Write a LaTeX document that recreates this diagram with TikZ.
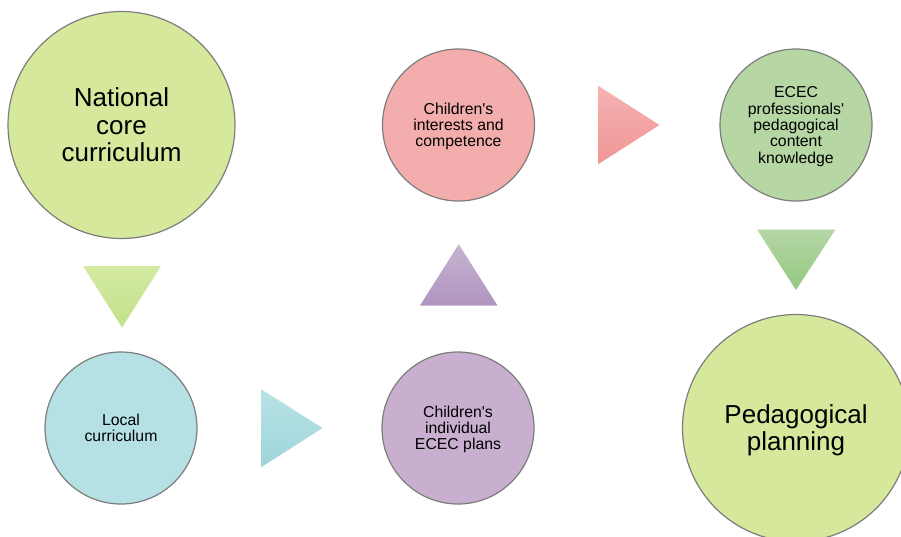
\documentclass[tikz,border=0pt]{standalone}
\usepackage{fontspec}
\setmainfont{Liberation Sans}
\definecolor{natgreen}{RGB}{213,232,156}
\definecolor{pinkc}{RGB}{244,173,173}
\definecolor{ecgreen}{RGB}{182,214,164}
\definecolor{tealc}{RGB}{181,224,228}
\definecolor{purplec}{RGB}{200,175,208}
\definecolor{edgegrey}{RGB}{125,125,125}
\newcommand{\topst}{\rule{0pt}{0.905em}}
\newcommand{\botst}{\rule[-0.212em]{0pt}{0.212em}}
\newcommand{\apo}{\textquotesingle}
\tikzset{
  circ/.style={circle, draw=edgegrey, line width=1.2pt, inner sep=0pt, align=center, text=black},
  bigc/.style={circ, minimum size=227pt, font=\fontsize{26}{27.5}\selectfont},
  smallc/.style={circ, minimum size=152pt, font=\fontsize{15.8}{16.4}\selectfont},
  tri/.style={draw=none}
}
\begin{document}
\begin{tikzpicture}[x=1pt,y=-1pt]
\useasboundingbox (0,0) rectangle (901,536);
\fill[white] (0,0) rectangle (901,536);
\begin{scope}
\clip (0,0) rectangle (901,536);
% circles
\node[bigc, fill=natgreen] (nat) at (121.5,125) {\topst National\\core\\curriculum\botst};
\node[smallc, fill=pinkc] (int) at (458.5,125) {\topst Children\apo s\\interests and\\competence\botst};
\node[smallc, fill=ecgreen] (ecec) at (796,125) {\topst ECEC\\professionals\apo\\pedagogical\\content\\knowledge\botst};
\node[smallc, fill=tealc] (loc) at (121,428) {\topst Local\\curriculum\botst};
\node[smallc, fill=purplec] (ind) at (458,428) {\topst Children\apo s\\individual\\ECEC plans\botst};
\node[bigc, fill=natgreen] (ped) at (796,428) {\topst Pedagogical\\planning\botst};
\end{scope}
% arrow triangles
\shade[tri, top color={rgb,255:red,212;green,233;blue,162}, bottom color={rgb,255:red,194;green,226;blue,138}]
  (83,266) -- (161,266) -- (122,327.5) -- cycle;
\shade[tri, top color={rgb,255:red,184;green,226;blue,230}, bottom color={rgb,255:red,158;green,213;blue,218}]
  (261.5,389.5) -- (322.5,428) -- (261.5,467) -- cycle;
\shade[tri, top color={rgb,255:red,198;green,180;blue,208}, bottom color={rgb,255:red,176;green,148;blue,192}]
  (420,305.5) -- (497.5,305.5) -- (458.7,244.3) -- cycle;
\shade[tri, top color={rgb,255:red,245;green,178;blue,178}, bottom color={rgb,255:red,240;green,150;blue,150}]
  (598.5,86) -- (659.5,125) -- (598.5,164) -- cycle;
\shade[tri, top color={rgb,255:red,180;green,214;blue,166}, bottom color={rgb,255:red,150;green,200;blue,128}]
  (757,229.5) -- (835.5,229.5) -- (796,290) -- cycle;
\end{tikzpicture}
\end{document}
